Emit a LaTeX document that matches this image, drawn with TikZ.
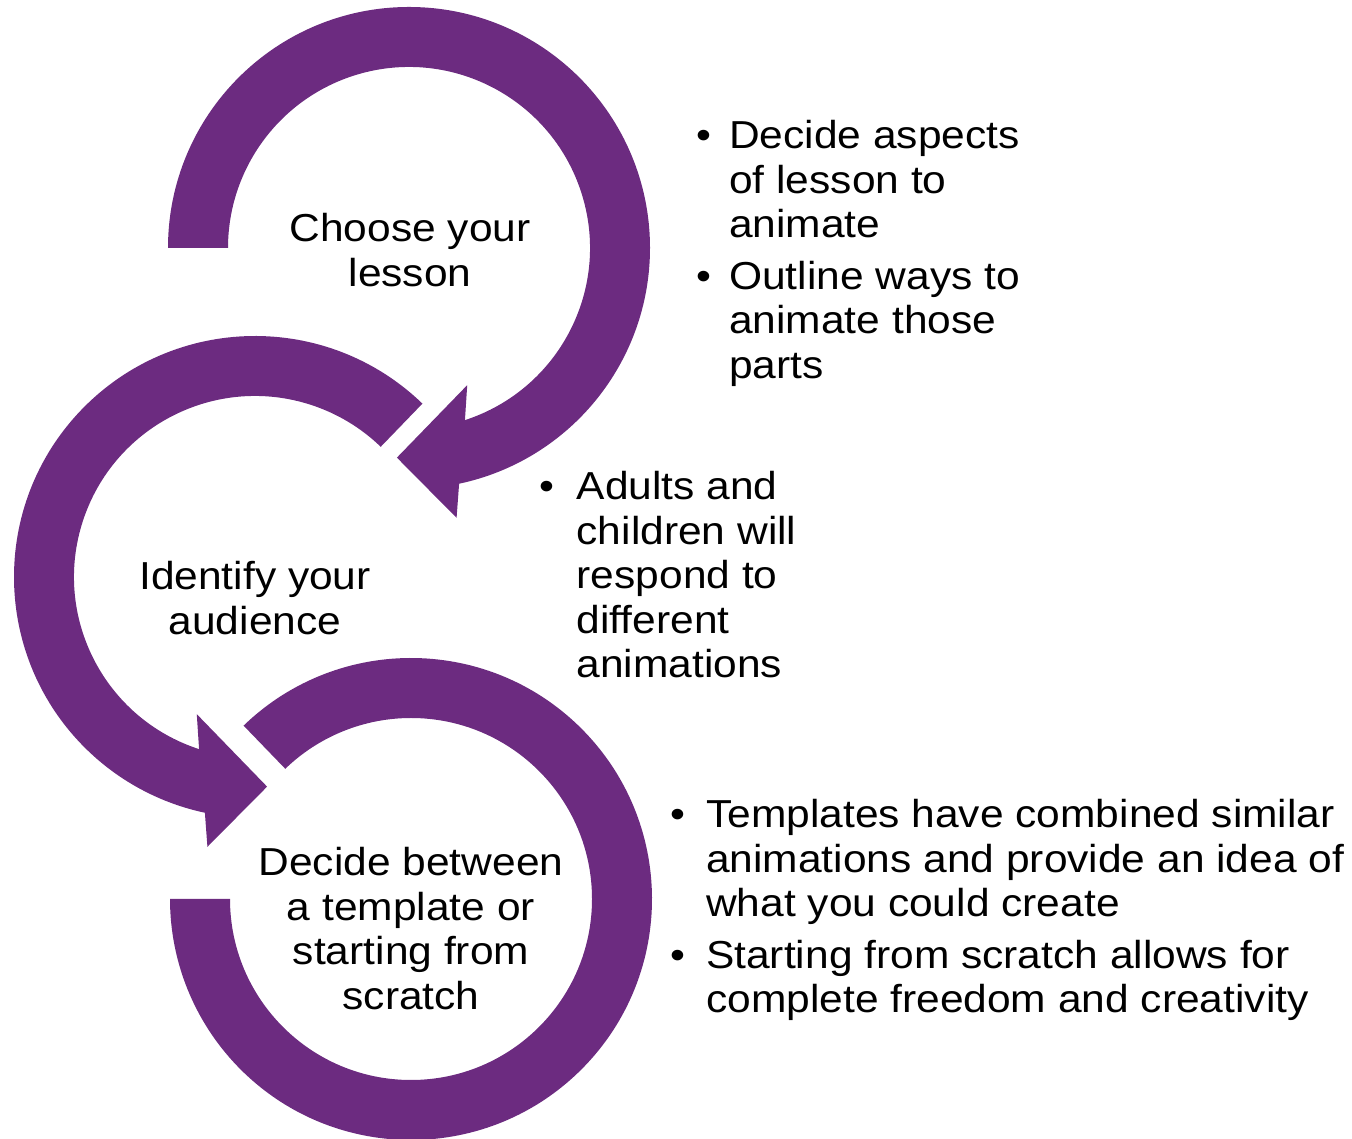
\documentclass[tikz,border=0pt]{standalone}
\usepackage{fontspec}
\setmainfont[FakeStretch=1.09]{Liberation Sans}
\definecolor{ringpurple}{RGB}{108,43,128}

\begin{document}
\begin{tikzpicture}[x=1pt, y=1pt,
    ring/.style = {fill=ringpurple, draw=none},
    txt/.style = {inner sep=0pt, anchor=base, font=\fontsize{39}{44.5}\selectfont}]
  \useasboundingbox (0,0) rectangle (1352,1138);
  \coordinate (c1) at (409,890);
  \coordinate (c2) at (255,561);
  \coordinate (c3) at (411,239);

  % circular arrows
  \fill[ring] ([shift={(180:241)}]c1) arc[start angle=180, end angle=-78, radius=241]
    -- ([shift={(-80:274)}]c1) -- ([shift={(-93.3:210)}]c1) -- ([shift={(-67:149)}]c1)
    -- ([shift={(-72:181)}]c1) arc[start angle=-72, end angle=180, radius=181] -- cycle;
  \fill[ring] ([shift={(46:241)}]c2) arc[start angle=46, end angle=258, radius=241]
    -- ([shift={(260:274)}]c2) -- ([shift={(273.3:210)}]c2) -- ([shift={(247:149)}]c2)
    -- ([shift={(252:181)}]c2) arc[start angle=252, end angle=46, radius=181] -- cycle;
  \fill[ring] ([shift={(134:241)}]c3) arc[start angle=134, end angle=-180, radius=241]
    -- ([shift={(180:181)}]c3) arc[start angle=-180, end angle=134, radius=181] -- cycle;

  % steps
  \node[txt] (lesson) at (410,896) {
    \begin{tabular}[t]{@{}c@{}}
      Choose your \\
      lesson
    \end{tabular}};
  \node[txt] (audience) at (255,548) {
    \begin{tabular}[t]{@{}c@{}}
      Identify your \\
      audience
    \end{tabular}};
  \node[txt] (template) at (411,262) {
    \begin{tabular}[t]{@{}c@{}}
      Decide between \\
      a template or \\
      starting from \\
      scratch
    \end{tabular}};

  % notes
  \node[txt, anchor=base west] (aspects) at (696.5,989) {
    \begin{tabular}[t]{@{}p{32.5pt}@{}l@{}}
      \textbullet & Decide aspects \\
                  & of lesson to \\
                  & animate \\[7pt]
      \textbullet & Outline ways to \\
                  & animate those \\
                  & parts
    \end{tabular}};
  \node[txt, anchor=base west] (adults) at (539.5,638) {
    \begin{tabular}[t]{@{}p{37pt}@{}l@{}}
      \textbullet & Adults and \\
                  & children will \\
                  & respond to \\
                  & different \\
                  & animations
    \end{tabular}};
  \node[txt, anchor=base west] (scratch) at (670,310) {
    \begin{tabular}[t]{@{}p{36pt}@{}l@{}}
      \textbullet & Templates have combined similar \\
                  & animations and provide an idea of \\
                  & what you could create \\[7pt]
      \textbullet & Starting from scratch allows for \\
                  & complete freedom and creativity
    \end{tabular}};
\end{tikzpicture}
\end{document}
